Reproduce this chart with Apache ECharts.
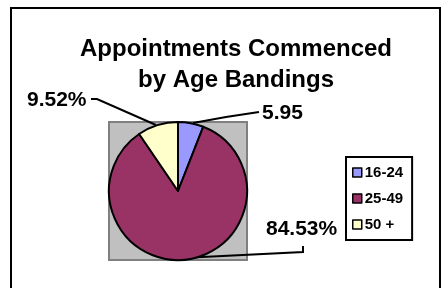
<!DOCTYPE html>
<html>
<head>
<meta charset="utf-8">
<script src="https://cdn.jsdelivr.net/npm/echarts@6/dist/echarts.min.js"></script>
<style>
  html, body { margin: 0; padding: 0; background: #fff; }
  #chart { width: 441px; height: 288px; }
</style>
</head>
<body>
<div id="chart"></div>
<script>
// 数据
var bands = ['16-24', '25-49', '50 +'];
var shares = [5.95, 84.53, 9.52];
var labelTexts = ['5.95', '84.53%', '9.52%'];
var colors = ['#9999FF', '#993366', '#FFFFCC'];

// 标签位置 (label x/y + leader line points)
var labelPos = [
	{ x: 262, y: 113, line: [[193, 123], [226, 117], [259, 112]] },
	{ x: 266, y: 229, line: [[182, 258], [303, 252], [303, 246]] },
	{ x: 27, y: 100, line: [[156, 125], [97, 99], [91, 99]] }
];

var font = '"Liberation Sans", Arial, sans-serif';
var myChart = echarts.init(document.getElementById('chart'));

var pieData = [];
bands.map(function (item, index) {
	pieData.push({
		name: item,
		value: shares[index],
		itemStyle: { color: colors[index] }
	});
});

var option = {
	animation: false,
	title: {
		text: 'Appointments Commenced\nby Age Bandings',
		left: 231,
		top: 29,
		textAlign: 'center',
		textStyle: {
			fontFamily: font,
			fontWeight: 'bold',
			fontSize: 24,
			lineHeight: 31,
			color: '#000'
		}
	},
	graphic: [
		{ // 外框
			type: 'rect',
			z: -10,
			shape: { x: 11, y: 8, width: 429, height: 300 },
			style: { fill: 'none', stroke: '#000', lineWidth: 2 }
		},
		{ // 灰色绘图区
			type: 'rect',
			z: -5,
			shape: { x: 109, y: 122, width: 138, height: 138 },
			style: { fill: '#C0C0C0', stroke: '#808080', lineWidth: 2 }
		}
	],
	legend: {
		orient: 'vertical',
		left: 346,
		top: 157,
		padding: [8, 9, 8, 6],
		itemGap: 11,
		itemWidth: 9,
		itemHeight: 9,
		icon: 'rect',
		borderColor: '#000',
		borderWidth: 2,
		backgroundColor: '#fff',
		itemStyle: { borderColor: '#000', borderWidth: 1.5 },
		textStyle: {
			fontFamily: font,
			fontWeight: 'bold',
			fontSize: 15,
			color: '#000',
			padding: [0, 0, 0, -2]
		},
		data: bands
	},
	series: [{
		type: 'pie',
		center: [178, 191],
		radius: 69,
		startAngle: 90,
		clockwise: true,
		itemStyle: { borderColor: '#000', borderWidth: 2 },
		emphasis: { disabled: true },
		label: {
			show: true,
			position: 'outside',
			fontFamily: font,
			fontWeight: 'bold',
			fontSize: 21,
			color: '#000',
			formatter: function (p) { return labelTexts[p.dataIndex]; }
		},
		labelLine: {
			show: true,
			lineStyle: { color: '#000', width: 2 }
		},
		labelLayout: function (params) {
			var pos = labelPos[params.dataIndex];
			return {
				x: pos.x,
				y: pos.y,
				align: 'left',
				verticalAlign: 'middle',
				labelLinePoints: pos.line
			};
		},
		data: pieData
	}]
};

myChart.setOption(option);
</script>
</body>
</html>
